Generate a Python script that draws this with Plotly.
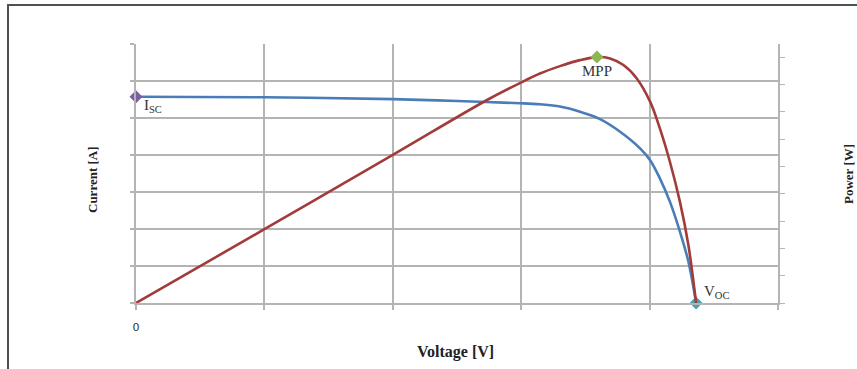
import plotly.graph_objects as go

# Voltage readings (V) for the I-V curve and current (A)
voltage_iv = [0.0, 5.0, 10.0, 12.5, 14.95, 15.73, 16.51, 17.29, 18.07, 18.85, 19.63, 20.02, 20.40, 20.79, 21.18, 21.51, 21.81]
current_a = [5.576, 5.56, 5.51, 5.46, 5.40, 5.37, 5.31, 5.17, 4.97, 4.63, 4.18, 3.86, 3.37, 2.74, 1.93, 1.12, 0.0]

# Voltage readings (V) for the P-V curve and power (W)
voltage_pv = [0.0, 5.0, 10.0, 13.67, 14.95, 15.73, 16.51, 17.29, 17.95, 18.46, 18.98, 19.50, 20.02, 20.40, 20.79, 21.18, 21.51, 21.81]
power_w = [0.0, 27.0, 54.2, 74.3, 80.5, 84.0, 86.7, 88.9, 90.0, 89.5, 87.1, 82.2, 73.7, 63.9, 51.7, 37.1, 21.2, 0.0]

# Key points
isc_v, isc_i = 0.0, 5.576
mpp_v, mpp_p = 17.95, 90.0
voc_v, voc_i = 21.81, 0.0

x_ticks = [0, 5, 10, 15, 20, 25]
x_ticktext = ["0", "", "", "", "", ""]

BLUE = "#4a7db8"
RED = "#a23c3a"
GRID = "#b4b4b4"
SERIF = "Liberation Serif, Times New Roman, serif"

fig = go.Figure()
fig.add_trace(go.Scatter(x=voltage_pv, y=power_w, yaxis="y2", mode="lines",
                         line=dict(color=RED, width=2.6, shape="spline", smoothing=1.0),
                         showlegend=False, hoverinfo="skip"))
fig.add_trace(go.Scatter(x=voltage_iv, y=current_a, mode="lines",
                         line=dict(color=BLUE, width=2.6, shape="spline", smoothing=1.0),
                         showlegend=False, hoverinfo="skip"))
fig.add_trace(go.Scatter(x=[isc_v], y=[isc_i], mode="markers",
                         marker=dict(symbol="diamond", size=10, color="#7b5ea3"),
                         showlegend=False, cliponaxis=False))
fig.add_trace(go.Scatter(x=[voc_v], y=[voc_i], mode="markers",
                         marker=dict(symbol="diamond", size=10, color="#4aa0b5"),
                         showlegend=False, cliponaxis=False))
fig.add_trace(go.Scatter(x=[mpp_v], y=[mpp_p], yaxis="y2", mode="markers",
                         marker=dict(symbol="diamond", size=10, color="#8db552"),
                         showlegend=False, cliponaxis=False))

fig.update_layout(
    width=857, height=369,
    margin=dict(l=136, r=79, t=44, b=66),
    paper_bgcolor="white", plot_bgcolor="white",
    font=dict(family=SERIF, color="#222"),
    xaxis=dict(range=[0, 25], tickvals=x_ticks, ticktext=x_ticktext,
               showgrid=True, gridcolor=GRID, gridwidth=1.5,
               showline=True, linecolor=GRID, linewidth=1.5,
               ticks="outside", ticklen=5, tickcolor=GRID, tickwidth=1.5,
               ticklabelstandoff=8,
               tickfont=dict(family="DejaVu Sans, sans-serif", size=11, color="#333"),
               zeroline=False),
    yaxis=dict(range=[0, 7], dtick=1, showticklabels=False,
               showgrid=True, gridcolor=GRID, gridwidth=1.5,
               showline=True, linecolor=GRID, linewidth=1.5,
               ticks="outside", ticklen=4, tickcolor=GRID, tickwidth=1.5,
               zeroline=False),
    yaxis2=dict(range=[0, 94.8], dtick=10, overlaying="y", side="right",
                showticklabels=False, showgrid=False,
                showline=True, linecolor=GRID, linewidth=1.5,
                ticks="outside", ticklen=5, tickcolor=GRID, tickwidth=1.2,
                zeroline=False),
)

# axis titles
fig.add_annotation(text="<b>Current [A]</b>", xref="paper", yref="paper",
                   x=(92 - 136) / 642, y=(303 - 180) / 259, textangle=-90,
                   showarrow=False, font=dict(family=SERIF, size=13, color="#222"),
                   xanchor="center", yanchor="middle")
fig.add_annotation(text="<b>Power [W]</b>", xref="paper", yref="paper",
                   x=(848 - 136) / 642, y=(303 - 174) / 259, textangle=-90,
                   showarrow=False, font=dict(family=SERIF, size=13, color="#222"),
                   xanchor="center", yanchor="middle")
fig.add_annotation(text="<b>Voltage [V]</b>", xref="paper", yref="paper",
                   x=(455 - 136) / 642, y=(303 - 352) / 259,
                   showarrow=False, font=dict(family=SERIF, size=16, color="#222"),
                   xanchor="center", yanchor="middle")

# point labels
fig.add_annotation(text="I<sub>SC</sub>", x=isc_v, y=isc_i, xref="x", yref="y",
                   showarrow=False, xanchor="left", yanchor="middle",
                   xshift=6, yshift=-9, font=dict(family=SERIF, size=15, color="#333"))
fig.add_annotation(text="MPP", x=mpp_v, y=mpp_p, xref="x", yref="y2",
                   showarrow=False, xanchor="center", yanchor="middle",
                   yshift=-14, font=dict(family=SERIF, size=15, color="#333"))
fig.add_annotation(text="V<sub>OC</sub>", x=voc_v, y=voc_i, xref="x", yref="y",
                   showarrow=False, xanchor="left", yanchor="middle",
                   xshift=6, yshift=11, font=dict(family=SERIF, size=15, color="#333"))

# outer frame (top-left corner visible)
fig.add_shape(type="rect", xref="paper", yref="paper",
              x0=(8 - 136) / 642, x1=(900 - 136) / 642,
              y0=(303 - 400) / 259, y1=(303 - 5) / 259,
              line=dict(color="#505050", width=2), fillcolor="rgba(0,0,0,0)", layer="below")

fig.write_html("out.html")
